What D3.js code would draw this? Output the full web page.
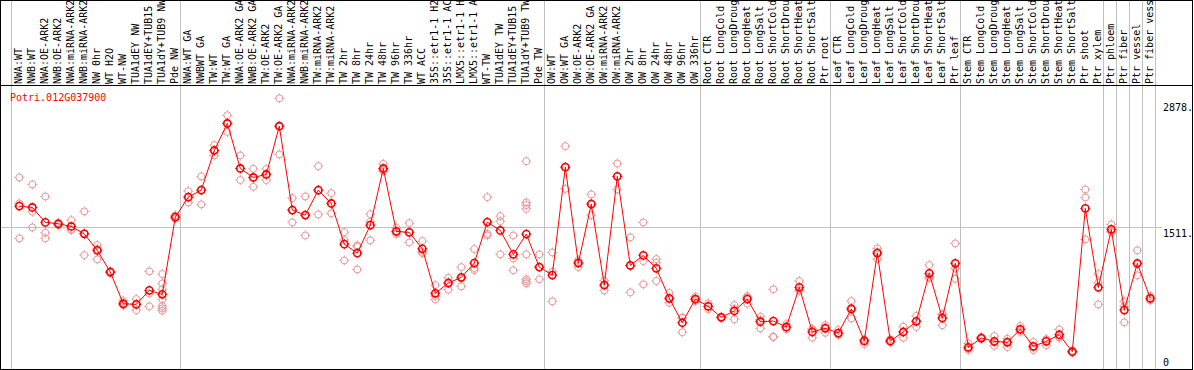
<!DOCTYPE html>
<html>
<head>
<meta charset="utf-8">
<script src="https://cdn.jsdelivr.net/npm/d3@7"></script>
<style>
body { margin: 0; background: #fff; }
text { font-family: "DejaVu Sans Mono", monospace; font-size: 10px; }
</style>
</head>
<body>
<script>
// gene shown
var geneName = "Potri.012G037900";

// sample labels, in plot order
var labels = [
    "NWA:WT", "NWB:WT", "NWA:OE-ARK2", "NWB:OE-ARK2", "NWA:miRNA-ARK2", "NWB:miRNA-ARK2",
    "NW 0hr", "WT H2O", "WT-NW", "TUA1dEY NW", "TUA1dEY+TUB15 NW", "TUA1dY+TUB9 NW", "Pde NW",
    "NWA:WT GA", "NWBWT GA", "TW:WT", "TW:WT GA", "NWA:OE-ARK2 GA", "NWB:OE-ARK2 GA",
    "TW:OE-ARK2", "TW:OE-ARK2 GA", "NWA:miRNA-ARK2 GA", "NWB:miRNA-ARK2 GA", "TW:miRNA-ARK2",
    "TW:miRNA-ARK2 GA", "TW 2hr", "TW 8hr", "TW 24hr", "TW 48hr", "TW 96hr", "TW 336hr",
    "WT ACC", "35S::etr1-1 H2O", "35S::etr1-1 ACC", "LMX5::etr1-1 H2O", "LMX5::etr1-1 ACC",
    "WT-TW", "TUA1dEY TW", "TUA1dEY+TUB15 TW", "TUA1dY+TUB9 TW", "Pde TW",
    "OW:WT", "OW:WT GA", "OW:OE-ARK2", "OW:OE-ARK2 GA", "OW:miRNA-ARK2", "OW:miRNA-ARK2 GA",
    "OW 2hr", "OW 8hr", "OW 24hr", "OW 48hr", "OW 96hr", "OW 336hr",
    "Root CTR", "Root LongCold", "Root LongDrought", "Root LongHeat", "Root LongSalt",
    "Root ShortCold", "Root ShortDrought", "Root ShortHeat", "Root ShortSalt", "Ptr root",
    "Leaf CTR", "Leaf LongCold", "Leaf LongDrought", "Leaf LongHeat", "Leaf LongSalt",
    "Leaf ShortCold", "Leaf ShortDrought", "Leaf ShortHeat", "Leaf ShortSalt", "Ptr leaf",
    "Stem CTR", "Stem LongCold", "Stem LongDrought", "Stem LongHeat", "Stem LongSalt",
    "Stem ShortCold", "Stem ShortDrought", "Stem ShortHeat", "Stem ShortSalt", "Ptr shoot",
    "Ptr xylem", "Ptr phloem", "Ptr fiber", "Ptr vessel", "Ptr fiber vessel"
];

// how many samples in each experiment block
var groupSizes = [13, 28, 12, 10, 10, 11, 1, 1, 1, 1];

// mean expression per sample
var means = [
    1738, 1724, 1566, 1551, 1523, 1445, 1270, 1041, 706, 699, 847, 805, 1622,
    1833, 1907, 2326, 2612, 2136, 2041, 2073, 2583, 1696, 1643, 1907, 1766, 1336, 1241,
    1537, 2136, 1471, 1460, 1287, 816, 924, 985, 1136, 1569, 1481, 1228, 1442, 1093,
    1009, 2150, 1136, 1759, 903, 2052, 1111, 1217, 1080, 763, 505, 755,
    678, 562, 629, 755, 516, 523, 460, 879, 407, 446,
    396, 650, 312, 1241, 312, 407, 520, 1027, 555, 1133,
    245, 343, 308, 298, 435, 256, 308, 378, 199, 1714, 879,
    1492, 639, 1133, 763
];

// single replicate values per sample
var reps = [
    [2041, 1766, 1397], [1967, 1678, 1513], [1840, 1456, 1397], [1561, 1545, 1537],
    [1590, 1484, 1495], [1682, 1220, 1450], [1326, 1284, 1175], [1051, 1041, 1033],
    [734, 689, 696], [755, 639, 703], [1048, 678, 815],
    [1020, 921, 858, 752, 681, 657, 632], [1640, 1622, 1604],
    [1896, 1777, 1833], [2052, 1756, 1907], [2382, 2274, 2326], [2699, 2523, 2612],
    [2274, 2013, 2136], [2132, 1942, 2041], [2129, 2013, 2076], [2878, 2284, 2583],
    [1822, 1566, 1696], [1840, 1428, 1643], [2161, 1650, 1907], [1875, 1661, 1766],
    [1463, 1379, 1164], [1323, 1069, 1308], [1653, 1572, 1376], [2185, 2118, 2108],
    [1509, 1442, 1463], [1558, 1354, 1463], [1368, 1255, 1241], [903, 752, 787],
    [980, 854, 935], [1093, 890, 971], [1284, 1062, 1083], [1833, 1428, 1445],
    [1632, 1579, 1228], [1428, 1185, 1059],
    [2213, 1777, 1749, 1709, 1228, 964, 942, 921], [1228, 964, 1093],
    [1249, 1044, 731], [2372, 1921, 2150], [1167, 1093, 1146], [1862, 1643, 1770],
    [949, 847, 906], [2189, 1914, 2052], [1407, 826, 1104], [1566, 1157, 911],
    [1178, 1139, 946], [819, 716, 755], [555, 404, 558], [780, 734, 752],
    [710, 647, 678], [568, 555, 562], [692, 541, 653], [773, 706, 787],
    [568, 446, 534], [858, 354, 357], [491, 435, 452], [946, 850, 843],
    [435, 347, 438], [481, 399, 457],
    [428, 375, 386], [734, 551, 664], [280, 330, 325], [1291, 1178, 1255],
    [330, 298, 308], [463, 347, 410], [576, 460, 523], [1115, 990, 975],
    [597, 478, 590], [1344, 1080, 970],
    [287, 217, 230], [343, 354, 333], [364, 298, 262], [336, 248, 308],
    [470, 428, 407], [301, 217, 248], [330, 266, 330], [435, 354, 347],
    [209, 192, 195], [1914, 1830, 1386], [1020, 928, 699],
    [1545, 1466, 1466], [731, 509, 678], [1270, 1006, 1125], [787, 741, 759]
];

// right hand value labels
var yTicks = [2878, 1511, 0];
var yTickLabels = ["2878.", "1511.", "0"];

var width = 1194,
    height = 370,
    headerBottom = 85,
    plotBottom = 369;

var svg = d3.select("body")
    .append("svg")
    .attr("width", width)
    .attr("height", height);

// column boundaries: 13px per sample
var xb = d3.scaleLinear()
    .domain([0, labels.length])
    .range([11, 11 + 13 * labels.length]);

function px(i) {
    return xb(i) + 8.3;
}

var y = d3.scaleLinear()
    .domain([0, 2878])
    .range([370.5, 98.3]);

// group separators
var bounds = [0].concat(Array.from(d3.cumsum(groupSizes)));
svg.append("g")
    .selectAll("line")
    .data(bounds)
    .enter()
    .append("line")
    .attr("x1", function (d) { return Math.floor(xb(d)) + 0.5; })
    .attr("x2", function (d) { return Math.floor(xb(d)) + 0.5; })
    .attr("y1", 0)
    .attr("y2", height)
    .attr("stroke", "#c0c0c0")
    .attr("shape-rendering", "crispEdges");

// reference line at the middle tick
svg.append("line")
    .attr("x1", 0)
    .attr("x2", 1162)
    .attr("y1", Math.floor(y(yTicks[1])) + 0.5)
    .attr("y2", Math.floor(y(yTicks[1])) + 0.5)
    .attr("stroke", "#c0c0c0")
    .attr("shape-rendering", "crispEdges");

// frame and header rule
svg.append("rect")
    .attr("x", 0.5)
    .attr("y", 0.5)
    .attr("width", 1192)
    .attr("height", plotBottom)
    .attr("fill", "none")
    .attr("stroke", "black")
    .attr("shape-rendering", "crispEdges");

svg.append("line")
    .attr("x1", 0)
    .attr("x2", 1193)
    .attr("y1", headerBottom + 0.5)
    .attr("y2", headerBottom + 0.5)
    .attr("stroke", "black")
    .attr("shape-rendering", "crispEdges");

// sample labels, rotated
svg.append("g")
    .selectAll("text")
    .data(labels)
    .enter()
    .append("text")
    .attr("transform", function (d, i) {
        return "translate(" + (px(i) - 0.5) + "," + (headerBottom - 1) + ") rotate(-90)";
    })
    .attr("dy", "0.35em")
    .text(function (d) { return d; });

// value labels on the right
svg.append("g")
    .selectAll("text")
    .data(yTicks)
    .enter()
    .append("text")
    .attr("x", 1163)
    .attr("y", function (d) {
        return Math.max(111, Math.min(366, y(d) + 9));
    })
    .text(function (d, i) { return yTickLabels[i]; });

// title
svg.append("text")
    .attr("x", 10)
    .attr("y", 101)
    .attr("fill", "red")
    .text(geneName);

// circle with small cross ticks
var tick = "M0,-5V-3M0,3V5M-5,0H-3M3,0H5";

// replicates
var repPoints = [];
reps.forEach(function (r, i) {
    r.forEach(function (v) { repPoints.push({ i: i, v: v }); });
});

var repG = svg.append("g")
    .selectAll("g")
    .data(repPoints)
    .enter()
    .append("g")
    .attr("transform", function (d) {
        return "translate(" + px(d.i) + "," + y(d.v) + ")";
    })
    .attr("stroke", "#e89a9a")
    .attr("fill", "none");
repG.append("circle").attr("r", 3.5);
repG.append("path").attr("d", tick);

// mean line
var line = d3.line()
    .x(function (d, i) { return px(i); })
    .y(function (d) { return y(d); });

svg.append("path")
    .datum(means)
    .attr("d", line)
    .attr("fill", "none")
    .attr("stroke", "red")
    .attr("stroke-width", 1);

// means
var meanG = svg.append("g")
    .selectAll("g")
    .data(means)
    .enter()
    .append("g")
    .attr("transform", function (d, i) {
        return "translate(" + px(i) + "," + y(d) + ")";
    })
    .attr("stroke", "red")
    .attr("fill", "none");
meanG.append("circle").attr("r", 3.6).attr("stroke-width", 1.6);
meanG.append("path").attr("d", tick);
</script>
</body>
</html>
